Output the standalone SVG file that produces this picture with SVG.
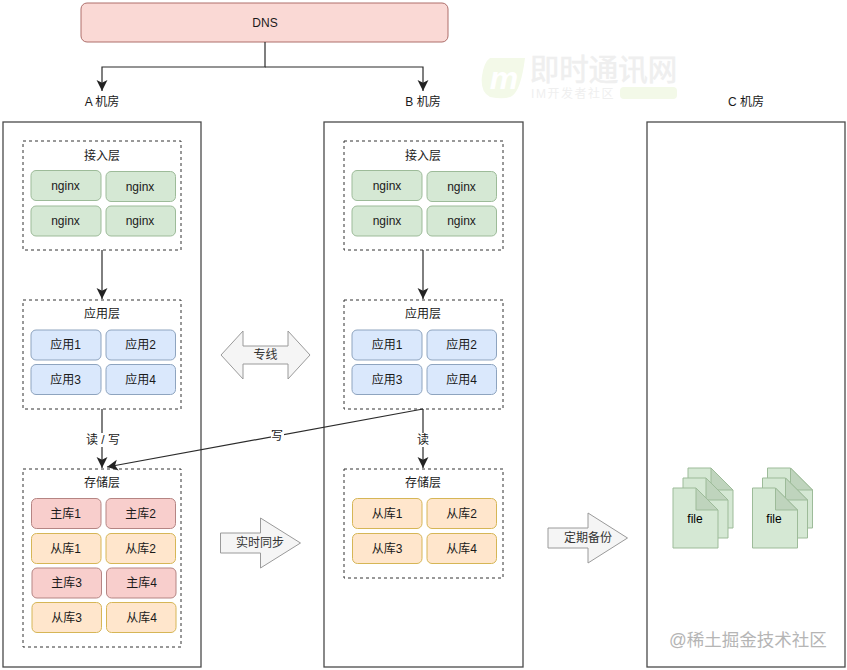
<svg xmlns="http://www.w3.org/2000/svg" width="847" height="670" viewBox="0 0 847 670">
<style>
text{font-family:"Liberation Sans","Noto Sans CJK SC",sans-serif;font-size:12px;fill:#1a1a1a;text-anchor:middle;dominant-baseline:central}
.room{fill:#fff;stroke:#4a4a4a;stroke-width:1.3}
.layer{fill:#fff;stroke:#333;stroke-width:1;stroke-dasharray:3 3}
.g{fill:#d5e8d4;stroke:#9dbb99;stroke-width:1}
.b{fill:#dae8fc;stroke:#8ea4bf;stroke-width:1}
.r{fill:#f8cecc;stroke:#b58583;stroke-width:1}
.y{fill:#ffe6cc;stroke:#d6b656;stroke-width:1}
.c{fill:none;stroke:#2b2b2b;stroke-width:1.2}
.big{fill:#f5f5f5;stroke:#9a9a9a;stroke-width:1}
.fold{fill:#bfd4bd;stroke:#9dbb99;stroke-width:1}
</style>
<defs>
<marker id="arr" markerUnits="userSpaceOnUse" markerWidth="12" markerHeight="12" refX="10" refY="5" orient="auto" viewBox="0 0 11 10"><path d="M0 0L10 5L0 10L2.5 5Z" fill="#222"/></marker>
<path id="doc" d="M0 0H23L45 22V60H0Z" class="g"/>
<path id="flap" d="M23 0L45 22H23Z" class="fold"/>
</defs>
<rect width="847" height="670" fill="#fff"/>

<g id="watermark-im">
<path d="M490 58H525Q521 90 512 96Q505 100 490 97Q480 92 482 76Q484 62 490 58Z" fill="#f3f9e8"/>
<text x="504" y="78" style="font-size:32px;font-style:italic;font-weight:bold;fill:#fff">m</text>
<text x="603.500" y="69" style="font-size:29.500px;fill:#efefef;stroke:#efefef;stroke-width:.6">即时通讯网</text>
<text x="573" y="94" style="font-size:12px;letter-spacing:1.5px;fill:#efefef">IM开发者社区</text>
<rect x="620" y="87" width="57" height="12" rx="4" fill="#f3f9e8"/>
</g>

<g id="room-a"><rect class="room" x="3" y="122" width="198" height="545"/><text x="102" y="102">A 机房</text></g>
<g id="room-b"><rect class="room" x="324" y="122" width="199" height="545"/><text x="423" y="102">B 机房</text></g>
<g id="room-c"><rect class="room" x="647" y="122" width="198" height="545"/><text x="746" y="102">C 机房</text></g>

<g id="dns"><rect x="81" y="3" width="367" height="39" rx="6" fill="#fad9d5" stroke="#ae6f6b" stroke-width="1"/><text x="265" y="23">DNS</text></g>

<g id="a-access"><rect class="layer" x="23" y="141" width="158" height="109"/><text x="102" y="156">接入层</text>
<rect class="g" x="31" y="170.500" width="70" height="30" rx="5"/><text x="65.500" y="185.500">nginx</text>
<rect class="g" x="106" y="171.500" width="69.500" height="30" rx="5"/><text x="140" y="186.500">nginx</text>
<rect class="g" x="31" y="206" width="70" height="30" rx="5"/><text x="65.500" y="221">nginx</text>
<rect class="g" x="106" y="206" width="69.500" height="30" rx="5"/><text x="140" y="221">nginx</text></g>

<g id="a-app"><rect class="layer" x="23" y="300" width="158" height="109"/><text x="102" y="314">应用层</text>
<rect class="b" x="31" y="330" width="70" height="30" rx="5"/><text x="65.500" y="345">应用1</text>
<rect class="b" x="106" y="330" width="69.500" height="30" rx="5"/><text x="140.500" y="345">应用2</text>
<rect class="b" x="31" y="364.500" width="70" height="30" rx="5"/><text x="65.500" y="379.500">应用3</text>
<rect class="b" x="106" y="364.500" width="69.500" height="30" rx="5"/><text x="140.500" y="379.500">应用4</text></g>

<g id="a-store"><rect class="layer" x="23" y="469" width="158" height="178"/><text x="102" y="483">存储层</text>
<rect class="r" x="31.500" y="498.500" width="69.500" height="30" rx="5"/><text x="65.500" y="513.500">主库1</text>
<rect class="r" x="106" y="498.500" width="69.500" height="30" rx="5"/><text x="140.500" y="513.500">主库2</text>
<rect class="y" x="31.500" y="533.500" width="69.500" height="30" rx="5"/><text x="65.500" y="548.500">从库1</text>
<rect class="y" x="106" y="533.500" width="69.500" height="30" rx="5"/><text x="140.500" y="548.500">从库2</text>
<rect class="r" x="32" y="568" width="69.500" height="30" rx="5"/><text x="66.500" y="583">主库3</text>
<rect class="r" x="106.500" y="568" width="69.500" height="30" rx="5"/><text x="141.500" y="583">主库4</text>
<rect class="y" x="32" y="602.500" width="69.500" height="30" rx="5"/><text x="66.500" y="617.500">从库3</text>
<rect class="y" x="106.500" y="602.500" width="69.500" height="30" rx="5"/><text x="141.500" y="617.500">从库4</text></g>

<g id="b-access"><rect class="layer" x="344" y="141" width="159" height="109"/><text x="423" y="156">接入层</text>
<rect class="g" x="352" y="170.500" width="70" height="30" rx="5"/><text x="387" y="185.500">nginx</text>
<rect class="g" x="427" y="171.500" width="69.500" height="30" rx="5"/><text x="461.500" y="186.500">nginx</text>
<rect class="g" x="352" y="206" width="70" height="30" rx="5"/><text x="387" y="221">nginx</text>
<rect class="g" x="427" y="206" width="69.500" height="30" rx="5"/><text x="461.500" y="221">nginx</text></g>

<g id="b-app"><rect class="layer" x="344" y="300" width="159" height="109"/><text x="423" y="314">应用层</text>
<rect class="b" x="352" y="330" width="70" height="30" rx="5"/><text x="387" y="345">应用1</text>
<rect class="b" x="427" y="330" width="69.500" height="30" rx="5"/><text x="461.500" y="345">应用2</text>
<rect class="b" x="352" y="364.500" width="70" height="30" rx="5"/><text x="387" y="379.500">应用3</text>
<rect class="b" x="427" y="364.500" width="69.500" height="30" rx="5"/><text x="461.500" y="379.500">应用4</text></g>

<g id="b-store"><rect class="layer" x="344" y="469" width="159" height="109"/><text x="423" y="483">存储层</text>
<rect class="y" x="352.500" y="498.500" width="69.500" height="30" rx="5"/><text x="387" y="513.500">从库1</text>
<rect class="y" x="427" y="498.500" width="69.500" height="30" rx="5"/><text x="461.500" y="513.500">从库2</text>
<rect class="y" x="352.500" y="533.500" width="69.500" height="30" rx="5"/><text x="387" y="548.500">从库3</text>
<rect class="y" x="427" y="533.500" width="69.500" height="30" rx="5"/><text x="461.500" y="548.500">从库4</text></g>

<g id="link-dedicated"><path class="big" d="M221 355L243 331V346H288V331L310 355L288 379V364H243V379Z"/><text x="265.500" y="355" style="fill:#333">专线</text></g>
<g id="link-sync"><path class="big" d="M220.500 533H260.500V518L300.500 543L260.500 568V553H220.500Z"/><text x="260" y="543" style="fill:#333">实时同步</text></g>
<g id="link-backup"><path class="big" d="M548 528H588V513L627.500 538L588 563V548H548Z"/><text x="588" y="538" style="fill:#333">定期备份</text></g>

<g id="files-1">
<use href="#doc" x="688" y="468"/><use href="#flap" x="688" y="468"/>
<use href="#doc" x="683" y="478"/><use href="#flap" x="683" y="478"/>
<use href="#doc" x="673" y="488"/><use href="#flap" x="673" y="488"/>
<text x="695" y="519" style="fill:#000">file</text>
</g>
<g id="files-2">
<use href="#doc" x="767.500" y="468"/><use href="#flap" x="767.500" y="468"/>
<use href="#doc" x="762.500" y="478"/><use href="#flap" x="762.500" y="478"/>
<use href="#doc" x="752.500" y="488"/><use href="#flap" x="752.500" y="488"/>
<text x="774" y="519" style="fill:#000">file</text>
</g>

<g id="connectors">
<path class="c" d="M265 42V67H102V91" marker-end="url(#arr)"/>
<path class="c" d="M265 67H423V91" marker-end="url(#arr)"/>
<path class="c" d="M102 250V299" marker-end="url(#arr)"/>
<path class="c" d="M423 250V299" marker-end="url(#arr)"/>
<path class="c" d="M102 409V468" marker-end="url(#arr)"/>
<path class="c" d="M423 409V468" marker-end="url(#arr)"/>
<path class="c" d="M423 409L107 467" marker-end="url(#arr)"/>
<rect x="86" y="433" width="34" height="14" fill="#fff"/><text x="103" y="440">读 / 写</text>
<rect x="416" y="433" width="14" height="14" fill="#fff"/><text x="423" y="440">读</text>
<rect x="271" y="430" width="13" height="13" fill="#fff"/><text x="277" y="436">写</text>
</g>

<g id="watermark-juejin"><text x="748" y="640" style="font-size:17.500px;fill:#b5b5b5">@稀土掘金技术社区</text></g>
</svg>
